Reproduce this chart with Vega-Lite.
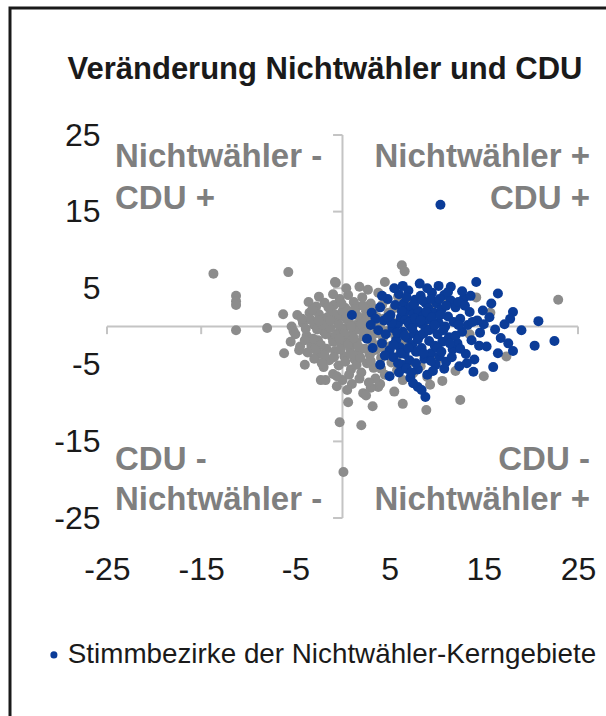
{
  "$schema": "https://vega.github.io/schema/vega-lite/v6.json",
  "autosize": {"type": "none"},
  "padding": {"left": 10, "top": 8, "right": 0, "bottom": 0},
  "width": 600,
  "height": 712,
  "background": "white",
  "config": {
    "view": {"stroke": "#1a1a1a", "strokeWidth": 3},
    "font": "Liberation Sans"
  },
  "title": {
    "text": "Veränderung Nichtwähler und CDU",
    "fontSize": 31,
    "fontWeight": "bold",
    "color": "#1a1a1a",
    "anchor": "middle",
    "frame": "group",
    "baseline": "alphabetic",
    "offset": 0,
    "dx": 15,
    "dy": 102
  },
  "datasets": {
    "pts": [
      {"x": -13.7, "y": 6.9, "g": "Übrige"}, {"x": -5.75, "y": 7.1, "g": "Übrige"}, {"x": -11.3, "y": 4.0, "g": "Übrige"}, {"x": -11.3, "y": 3.3, "g": "Übrige"}, {"x": -11.3, "y": 2.8, "g": "Übrige"}, {"x": -11.3, "y": -0.5, "g": "Übrige"}, {"x": -8.0, "y": -0.2, "g": "Übrige"}, {"x": -6.3, "y": 1.6, "g": "Übrige"}, {"x": -5.4, "y": 0.0, "g": "Übrige"}, {"x": -5.2, "y": -0.6, "g": "Übrige"}, {"x": -4.6, "y": -3.1, "g": "Übrige"}, {"x": -2.3, "y": -7.0, "g": "Übrige"}, {"x": -0.7, "y": 5.7, "g": "Übrige"}, {"x": -0.3, "y": -12.5, "g": "Übrige"}, {"x": 0.6, "y": -9.9, "g": "Übrige"}, {"x": 3.2, "y": -10.4, "g": "Übrige"}, {"x": 2.0, "y": -12.9, "g": "Übrige"}, {"x": 0.1, "y": -19.0, "g": "Übrige"}, {"x": 6.3, "y": 8.0, "g": "Übrige"}, {"x": 6.6, "y": 7.2, "g": "Übrige"}, {"x": 22.9, "y": 3.5, "g": "Übrige"}, {"x": 12.5, "y": -9.6, "g": "Übrige"}, {"x": 8.9, "y": -10.9, "g": "Übrige"}, {"x": 6.4, "y": -10.1, "g": "Übrige"}, {"x": 2.2, "y": -8.7, "g": "Übrige"}, {"x": 9.3, "y": -7.6, "g": "Übrige"}, {"x": 3.8, "y": -7.9, "g": "Übrige"}, {"x": 17.4, "y": -3.9, "g": "Übrige"}, {"x": 15.7, "y": 1.8, "g": "Übrige"}, {"x": -0.8, "y": 5.8, "g": "Übrige"}, {"x": 4.5, "y": 5.8, "g": "Übrige"},
      {"x": -4.2, "y": 0.5, "g": "Übrige"}, {"x": -3.8, "y": -1.2, "g": "Übrige"}, {"x": -3.5, "y": 1.8, "g": "Übrige"}, {"x": -3.3, "y": -2.5, "g": "Übrige"}, {"x": -3.0, "y": 0.2, "g": "Übrige"}, {"x": -2.8, "y": 2.6, "g": "Übrige"}, {"x": -2.6, "y": -1.8, "g": "Übrige"}, {"x": -2.4, "y": -3.6, "g": "Übrige"}, {"x": -2.2, "y": 1.0, "g": "Übrige"}, {"x": -2.0, "y": -0.6, "g": "Übrige"}, {"x": -1.9, "y": 3.1, "g": "Übrige"}, {"x": -1.7, "y": -2.9, "g": "Übrige"}, {"x": -1.5, "y": 0.3, "g": "Übrige"}, {"x": -1.4, "y": -4.4, "g": "Übrige"}, {"x": -1.2, "y": 1.9, "g": "Übrige"}, {"x": -1.1, "y": -1.4, "g": "Übrige"}, {"x": -0.9, "y": 2.8, "g": "Übrige"}, {"x": -0.8, "y": -3.2, "g": "Übrige"}, {"x": -0.6, "y": 0.8, "g": "Übrige"}, {"x": -0.5, "y": -0.9, "g": "Übrige"}, {"x": -0.4, "y": -5.1, "g": "Übrige"}, {"x": -0.3, "y": 3.6, "g": "Übrige"}, {"x": -0.2, "y": -2.2, "g": "Übrige"}, {"x": 0.0, "y": 1.4, "g": "Übrige"}, {"x": 0.1, "y": -0.3, "g": "Übrige"}, {"x": 0.2, "y": -3.9, "g": "Übrige"}, {"x": 0.3, "y": 2.4, "g": "Übrige"}, {"x": 0.5, "y": -1.6, "g": "Übrige"}, {"x": 0.6, "y": 4.1, "g": "Übrige"}, {"x": 0.7, "y": 0.5, "g": "Übrige"}, {"x": 0.8, "y": -2.8, "g": "Übrige"}, {"x": 0.9, "y": -5.6, "g": "Übrige"}, {"x": 1.0, "y": 1.9, "g": "Übrige"}, {"x": 1.1, "y": -0.8, "g": "Übrige"}, {"x": 1.2, "y": 3.2, "g": "Übrige"}, {"x": 1.3, "y": -4.3, "g": "Übrige"}, {"x": 1.4, "y": 0.2, "g": "Übrige"}, {"x": 1.5, "y": -2.1, "g": "Übrige"}, {"x": 1.6, "y": 2.6, "g": "Übrige"}, {"x": 1.7, "y": -3.4, "g": "Übrige"}, {"x": 1.8, "y": -0.4, "g": "Übrige"}, {"x": 1.9, "y": 1.1, "g": "Übrige"}, {"x": 2.0, "y": -6.0, "g": "Übrige"}, {"x": 2.1, "y": 3.8, "g": "Übrige"}, {"x": 2.2, "y": -1.3, "g": "Übrige"}, {"x": 2.3, "y": 0.7, "g": "Übrige"}, {"x": 2.4, "y": -2.9, "g": "Übrige"}, {"x": 2.5, "y": 2.0, "g": "Übrige"}, {"x": 2.6, "y": -4.8, "g": "Übrige"}, {"x": 2.7, "y": -0.1, "g": "Übrige"}, {"x": 2.8, "y": 1.5, "g": "Übrige"}, {"x": 2.9, "y": -3.7, "g": "Übrige"}, {"x": 3.0, "y": 3.0, "g": "Übrige"}, {"x": 3.1, "y": -1.9, "g": "Übrige"}, {"x": 3.2, "y": 0.4, "g": "Übrige"}, {"x": 3.3, "y": -5.4, "g": "Übrige"}, {"x": 3.4, "y": 2.3, "g": "Übrige"}, {"x": 3.5, "y": -0.9, "g": "Übrige"}, {"x": 3.6, "y": -3.0, "g": "Übrige"}, {"x": 3.7, "y": 1.2, "g": "Übrige"}, {"x": 3.8, "y": 4.4, "g": "Übrige"}, {"x": 3.9, "y": -2.4, "g": "Übrige"}, {"x": 4.0, "y": 0.0, "g": "Übrige"}, {"x": 4.1, "y": -4.1, "g": "Übrige"}, {"x": 4.2, "y": 2.8, "g": "Übrige"}, {"x": 4.3, "y": -1.5, "g": "Übrige"}, {"x": 4.4, "y": 1.0, "g": "Übrige"}, {"x": 4.5, "y": -6.3, "g": "Übrige"}, {"x": 4.6, "y": -3.2, "g": "Übrige"}, {"x": 4.7, "y": 3.5, "g": "Übrige"}, {"x": 4.8, "y": -0.6, "g": "Übrige"}, {"x": 4.9, "y": 1.8, "g": "Übrige"}, {"x": 5.0, "y": -2.6, "g": "Übrige"}, {"x": 5.2, "y": -4.7, "g": "Übrige"}, {"x": 5.3, "y": 0.6, "g": "Übrige"}, {"x": 5.5, "y": 2.4, "g": "Übrige"}, {"x": 5.6, "y": -1.2, "g": "Übrige"}, {"x": 5.8, "y": -5.7, "g": "Übrige"}, {"x": 5.9, "y": 3.9, "g": "Übrige"}, {"x": 6.1, "y": -3.6, "g": "Übrige"}, {"x": 6.2, "y": 0.9, "g": "Übrige"}, {"x": 6.4, "y": -7.0, "g": "Übrige"}, {"x": 6.5, "y": -2.0, "g": "Übrige"}, {"x": 6.7, "y": 1.6, "g": "Übrige"}, {"x": 6.9, "y": -4.9, "g": "Übrige"}, {"x": 7.1, "y": 3.1, "g": "Übrige"}, {"x": 7.3, "y": -0.8, "g": "Übrige"}, {"x": 7.5, "y": -6.1, "g": "Übrige"}, {"x": 7.8, "y": 2.2, "g": "Übrige"}, {"x": 8.0, "y": -3.3, "g": "Übrige"}, {"x": 8.3, "y": -5.2, "g": "Übrige"}, {"x": 8.6, "y": 0.3, "g": "Übrige"}, {"x": 9.0, "y": -6.6, "g": "Übrige"}, {"x": 9.5, "y": 2.7, "g": "Übrige"}, {"x": 10.0, "y": -4.4, "g": "Übrige"}, {"x": 10.6, "y": -7.1, "g": "Übrige"}, {"x": 11.2, "y": 3.3, "g": "Übrige"}, {"x": 12.0, "y": -5.8, "g": "Übrige"}, {"x": 12.8, "y": 2.9, "g": "Übrige"}, {"x": 13.5, "y": -1.0, "g": "Übrige"}, {"x": 14.2, "y": 3.8, "g": "Übrige"}, {"x": 15.0, "y": -6.5, "g": "Übrige"}, {"x": -1.0, "y": 4.2, "g": "Übrige"}, {"x": -2.5, "y": 3.9, "g": "Übrige"}, {"x": 0.4, "y": 5.0, "g": "Übrige"}, {"x": -3.0, "y": -4.2, "g": "Übrige"}, {"x": -2.0, "y": -5.3, "g": "Übrige"}, {"x": -1.0, "y": -6.2, "g": "Übrige"}, {"x": 0.0, "y": -7.0, "g": "Übrige"}, {"x": 1.0, "y": -7.5, "g": "Übrige"}, {"x": -4.5, "y": -2.6, "g": "Übrige"}, {"x": -5.0, "y": -1.0, "g": "Übrige"}, {"x": -4.8, "y": 1.5, "g": "Übrige"}, {"x": -3.6, "y": 3.2, "g": "Übrige"}, {"x": 2.7, "y": 4.8, "g": "Übrige"}, {"x": 1.8, "y": 5.2, "g": "Übrige"}, {"x": -0.6, "y": -7.8, "g": "Übrige"}, {"x": 0.5, "y": -8.3, "g": "Übrige"}, {"x": 3.0, "y": -8.0, "g": "Übrige"}, {"x": 4.0, "y": -7.5, "g": "Übrige"}, {"x": 5.5, "y": -8.5, "g": "Übrige"}, {"x": 2.5, "y": -9.0, "g": "Übrige"}, {"x": -1.8, "y": -7.0, "g": "Übrige"},
      {"x": -3.9, "y": -0.3, "g": "Übrige"}, {"x": -3.4, "y": 0.9, "g": "Übrige"}, {"x": -3.1, "y": -1.6, "g": "Übrige"}, {"x": -2.7, "y": -0.4, "g": "Übrige"}, {"x": -2.5, "y": 1.6, "g": "Übrige"}, {"x": -2.3, "y": -2.4, "g": "Übrige"}, {"x": -2.1, "y": 0.2, "g": "Übrige"}, {"x": -1.8, "y": -1.0, "g": "Übrige"}, {"x": -1.6, "y": 1.2, "g": "Übrige"}, {"x": -1.3, "y": -0.2, "g": "Übrige"}, {"x": -1.0, "y": -2.0, "g": "Übrige"}, {"x": -0.8, "y": 1.6, "g": "Übrige"}, {"x": -0.7, "y": -1.2, "g": "Übrige"}, {"x": -0.4, "y": 0.2, "g": "Übrige"}, {"x": -0.2, "y": -3.0, "g": "Übrige"}, {"x": 0.0, "y": 2.0, "g": "Übrige"}, {"x": 0.2, "y": -1.0, "g": "Übrige"}, {"x": 0.4, "y": 1.0, "g": "Übrige"}, {"x": 0.6, "y": -2.3, "g": "Übrige"}, {"x": 0.9, "y": 0.0, "g": "Übrige"}, {"x": 1.2, "y": -1.5, "g": "Übrige"}, {"x": 1.5, "y": 1.5, "g": "Übrige"}, {"x": 1.7, "y": -2.6, "g": "Übrige"}, {"x": 2.0, "y": 0.3, "g": "Übrige"}, {"x": 2.3, "y": -0.8, "g": "Übrige"}, {"x": 2.6, "y": 1.0, "g": "Übrige"}, {"x": 2.9, "y": -1.2, "g": "Übrige"}, {"x": 3.2, "y": -3.2, "g": "Übrige"}, {"x": -2.9, "y": -3.0, "g": "Übrige"}, {"x": -1.9, "y": -3.8, "g": "Übrige"}, {"x": -0.9, "y": -4.0, "g": "Übrige"}, {"x": 0.3, "y": -4.6, "g": "Übrige"}, {"x": 1.5, "y": -5.0, "g": "Übrige"}, {"x": -3.2, "y": 2.2, "g": "Übrige"}, {"x": -1.5, "y": 2.5, "g": "Übrige"}, {"x": -0.1, "y": 3.0, "g": "Übrige"}, {"x": 1.3, "y": 2.3, "g": "Übrige"}, {"x": 2.2, "y": 2.7, "g": "Übrige"}, {"x": -4.0, "y": -1.8, "g": "Übrige"}, {"x": -4.3, "y": 1.0, "g": "Übrige"}, {"x": -2.2, "y": -4.8, "g": "Übrige"}, {"x": -0.6, "y": -6.5, "g": "Übrige"}, {"x": 0.7, "y": -6.3, "g": "Übrige"}, {"x": -3.7, "y": -3.4, "g": "Übrige"}, {"x": -2.5, "y": 0.8, "g": "Übrige"}, {"x": -1.3, "y": 0.8, "g": "Übrige"}, {"x": -0.3, "y": -1.6, "g": "Übrige"}, {"x": 0.8, "y": -3.6, "g": "Übrige"}, {"x": 1.9, "y": -4.1, "g": "Übrige"}, {"x": 3.0, "y": -4.5, "g": "Übrige"}, {"x": 4.1, "y": -5.5, "g": "Übrige"}, {"x": 3.5, "y": -6.8, "g": "Übrige"}, {"x": 2.8, "y": -7.3, "g": "Übrige"}, {"x": 1.8, "y": -6.8, "g": "Übrige"}, {"x": -5.5, "y": -2.0, "g": "Übrige"}, {"x": -6.2, "y": -3.5, "g": "Übrige"}, {"x": -4.0, "y": -5.0, "g": "Übrige"},
      {"x": 14.2, "y": 5.8, "g": "K"}, {"x": 16.5, "y": 4.3, "g": "K"}, {"x": 18.1, "y": 1.9, "g": "K"}, {"x": 20.8, "y": 0.7, "g": "K"}, {"x": 22.5, "y": -1.9, "g": "K"}, {"x": 20.4, "y": -2.5, "g": "K"}, {"x": 18.1, "y": -3.2, "g": "K"}, {"x": 16.0, "y": -5.3, "g": "K"}, {"x": 13.9, "y": -5.9, "g": "K"}, {"x": 8.8, "y": -9.2, "g": "K"}, {"x": 8.0, "y": -7.9, "g": "K"}, {"x": 7.2, "y": -6.7, "g": "K"}, {"x": 5.0, "y": -6.5, "g": "K"}, {"x": 1.0, "y": 1.5, "g": "K"}, {"x": 3.1, "y": 1.8, "g": "K"}, {"x": 10.4, "y": 15.9, "g": "K"},
      {"x": 3.8, "y": -0.5, "g": "K"}, {"x": 4.0, "y": 2.5, "g": "K"}, {"x": 4.2, "y": -2.2, "g": "K"}, {"x": 4.4, "y": 0.8, "g": "K"}, {"x": 4.6, "y": -1.0, "g": "K"}, {"x": 4.8, "y": 3.6, "g": "K"}, {"x": 5.0, "y": -3.1, "g": "K"}, {"x": 5.1, "y": 1.5, "g": "K"}, {"x": 5.3, "y": -0.2, "g": "K"}, {"x": 5.4, "y": -4.0, "g": "K"}, {"x": 5.6, "y": 2.8, "g": "K"}, {"x": 5.7, "y": -1.8, "g": "K"}, {"x": 5.9, "y": 0.4, "g": "K"}, {"x": 6.0, "y": 4.2, "g": "K"}, {"x": 6.1, "y": -2.7, "g": "K"}, {"x": 6.2, "y": 1.2, "g": "K"}, {"x": 6.3, "y": -5.0, "g": "K"}, {"x": 6.4, "y": -0.7, "g": "K"}, {"x": 6.5, "y": 3.0, "g": "K"}, {"x": 6.6, "y": -3.6, "g": "K"}, {"x": 6.7, "y": 0.9, "g": "K"}, {"x": 6.8, "y": 2.1, "g": "K"}, {"x": 6.9, "y": -1.5, "g": "K"}, {"x": 7.0, "y": 4.7, "g": "K"}, {"x": 7.1, "y": -4.4, "g": "K"}, {"x": 7.2, "y": 0.1, "g": "K"}, {"x": 7.3, "y": 2.6, "g": "K"}, {"x": 7.4, "y": -2.4, "g": "K"}, {"x": 7.5, "y": 1.6, "g": "K"}, {"x": 7.6, "y": -0.9, "g": "K"}, {"x": 7.7, "y": 3.5, "g": "K"}, {"x": 7.8, "y": -3.3, "g": "K"}, {"x": 7.9, "y": 0.6, "g": "K"}, {"x": 8.0, "y": -5.6, "g": "K"}, {"x": 8.1, "y": 2.0, "g": "K"}, {"x": 8.2, "y": -1.2, "g": "K"}, {"x": 8.3, "y": 4.0, "g": "K"}, {"x": 8.4, "y": -2.8, "g": "K"}, {"x": 8.5, "y": 0.3, "g": "K"}, {"x": 8.6, "y": 1.4, "g": "K"}, {"x": 8.7, "y": -4.2, "g": "K"}, {"x": 8.8, "y": 3.1, "g": "K"}, {"x": 8.9, "y": -0.4, "g": "K"}, {"x": 9.0, "y": -6.3, "g": "K"}, {"x": 9.1, "y": 2.4, "g": "K"}, {"x": 9.2, "y": -1.9, "g": "K"}, {"x": 9.3, "y": 0.9, "g": "K"}, {"x": 9.4, "y": -3.5, "g": "K"}, {"x": 9.5, "y": 4.4, "g": "K"}, {"x": 9.6, "y": -0.1, "g": "K"}, {"x": 9.7, "y": 1.8, "g": "K"}, {"x": 9.8, "y": -2.5, "g": "K"}, {"x": 9.9, "y": -5.0, "g": "K"}, {"x": 10.0, "y": 3.0, "g": "K"}, {"x": 10.1, "y": -1.0, "g": "K"}, {"x": 10.2, "y": 0.5, "g": "K"}, {"x": 10.3, "y": -3.9, "g": "K"}, {"x": 10.5, "y": 2.2, "g": "K"}, {"x": 10.6, "y": -2.0, "g": "K"}, {"x": 10.8, "y": 4.1, "g": "K"}, {"x": 10.9, "y": 0.0, "g": "K"}, {"x": 11.0, "y": -4.6, "g": "K"}, {"x": 11.2, "y": 1.3, "g": "K"}, {"x": 11.3, "y": -1.4, "g": "K"}, {"x": 11.5, "y": 3.4, "g": "K"}, {"x": 11.7, "y": -3.0, "g": "K"}, {"x": 11.8, "y": 0.6, "g": "K"}, {"x": 12.0, "y": 2.5, "g": "K"}, {"x": 12.2, "y": -2.2, "g": "K"}, {"x": 12.4, "y": -5.2, "g": "K"}, {"x": 12.5, "y": 1.0, "g": "K"}, {"x": 12.7, "y": -0.7, "g": "K"}, {"x": 12.9, "y": 3.7, "g": "K"}, {"x": 13.1, "y": -3.6, "g": "K"}, {"x": 13.3, "y": 0.2, "g": "K"}, {"x": 13.5, "y": 1.9, "g": "K"}, {"x": 13.7, "y": -1.8, "g": "K"}, {"x": 14.0, "y": -4.3, "g": "K"}, {"x": 14.3, "y": 0.8, "g": "K"}, {"x": 14.6, "y": -0.8, "g": "K"}, {"x": 14.9, "y": 2.1, "g": "K"}, {"x": 15.3, "y": -2.6, "g": "K"}, {"x": 15.6, "y": 1.2, "g": "K"}, {"x": 16.2, "y": -0.4, "g": "K"}, {"x": 16.8, "y": -1.5, "g": "K"}, {"x": 17.2, "y": 0.3, "g": "K"}, {"x": 17.6, "y": -2.2, "g": "K"}, {"x": 6.0, "y": -6.0, "g": "K"}, {"x": 7.5, "y": -7.4, "g": "K"}, {"x": 8.4, "y": -8.3, "g": "K"}, {"x": 5.5, "y": 5.0, "g": "K"}, {"x": 9.0, "y": 5.0, "g": "K"}, {"x": 11.5, "y": 5.2, "g": "K"}, {"x": 12.7, "y": 4.6, "g": "K"}, {"x": 3.2, "y": -2.8, "g": "K"}, {"x": 4.0, "y": -5.0, "g": "K"}, {"x": 3.5, "y": 1.0, "g": "K"},
      {"x": 5.2, "y": 0.5, "g": "K"}, {"x": 5.8, "y": -0.8, "g": "K"}, {"x": 6.3, "y": 2.0, "g": "K"}, {"x": 6.6, "y": -1.2, "g": "K"}, {"x": 7.0, "y": 0.5, "g": "K"}, {"x": 7.4, "y": -0.2, "g": "K"}, {"x": 7.7, "y": 1.0, "g": "K"}, {"x": 8.0, "y": -1.7, "g": "K"}, {"x": 8.3, "y": 0.8, "g": "K"}, {"x": 8.6, "y": -0.9, "g": "K"}, {"x": 8.9, "y": 1.9, "g": "K"}, {"x": 9.2, "y": -0.5, "g": "K"}, {"x": 9.5, "y": 1.2, "g": "K"}, {"x": 9.8, "y": 0.2, "g": "K"}, {"x": 10.1, "y": -2.8, "g": "K"}, {"x": 10.4, "y": 1.5, "g": "K"}, {"x": 10.7, "y": -0.5, "g": "K"}, {"x": 11.0, "y": 2.7, "g": "K"}, {"x": 11.4, "y": -2.2, "g": "K"}, {"x": 12.0, "y": -1.2, "g": "K"}, {"x": 12.3, "y": 0.2, "g": "K"}, {"x": 6.2, "y": -3.5, "g": "K"}, {"x": 7.0, "y": -2.8, "g": "K"}, {"x": 7.8, "y": -4.8, "g": "K"}, {"x": 8.6, "y": -3.5, "g": "K"}, {"x": 9.4, "y": -4.5, "g": "K"}, {"x": 10.5, "y": -3.3, "g": "K"}, {"x": 11.6, "y": -4.0, "g": "K"}, {"x": 6.8, "y": 3.8, "g": "K"}, {"x": 7.6, "y": 2.9, "g": "K"}, {"x": 8.5, "y": 3.4, "g": "K"}, {"x": 9.4, "y": 3.6, "g": "K"}, {"x": 10.3, "y": 3.6, "g": "K"}, {"x": 11.2, "y": 4.5, "g": "K"}, {"x": 12.3, "y": 3.2, "g": "K"}, {"x": 13.0, "y": 2.7, "g": "K"}, {"x": 13.8, "y": 0.6, "g": "K"}, {"x": 14.5, "y": -2.5, "g": "K"}, {"x": 15.0, "y": 0.3, "g": "K"}, {"x": 5.4, "y": -2.4, "g": "K"}, {"x": 4.8, "y": 1.2, "g": "K"}, {"x": 4.5, "y": -3.8, "g": "K"}, {"x": 5.9, "y": -4.8, "g": "K"}, {"x": 6.8, "y": -5.5, "g": "K"}, {"x": 7.3, "y": -6.0, "g": "K"}, {"x": 9.6, "y": -5.8, "g": "K"}, {"x": 10.8, "y": -5.5, "g": "K"}, {"x": 13.2, "y": -4.8, "g": "K"}, {"x": 15.8, "y": 3.0, "g": "K"}, {"x": 16.5, "y": -3.5, "g": "K"}, {"x": 17.8, "y": 1.0, "g": "K"}, {"x": 19.0, "y": -0.5, "g": "K"}, {"x": 4.2, "y": 4.0, "g": "K"}, {"x": 6.4, "y": 5.3, "g": "K"}, {"x": 8.2, "y": 5.6, "g": "K"}, {"x": 10.2, "y": 5.3, "g": "K"}, {"x": 3.0, "y": 0.2, "g": "K"}, {"x": 2.6, "y": -1.6, "g": "K"}, {"x": 13.6, "y": 4.0, "g": "K"}, {"x": 12.5, "y": -2.9, "g": "K"}
    ],
    "lines": [
      {"x": -25, "x2": 25, "y": 0, "y2": 0},
      {"x": 0, "x2": 0, "y": -25, "y2": 25},
      {"x": -25, "x2": -25, "y": 0, "y2": -1},
      {"x": -15, "x2": -15, "y": 0, "y2": -1},
      {"x": -5, "x2": -5, "y": 0, "y2": -1},
      {"x": 5, "x2": 5, "y": 0, "y2": -1},
      {"x": 15, "x2": 15, "y": 0, "y2": -1},
      {"x": 25, "x2": 25, "y": 0, "y2": -1},
      {"x": -1, "x2": 0, "y": -25, "y2": -25},
      {"x": -1, "x2": 0, "y": -15, "y2": -15},
      {"x": -1, "x2": 0, "y": -5, "y2": -5},
      {"x": -1, "x2": 0, "y": 5, "y2": 5},
      {"x": -1, "x2": 0, "y": 15, "y2": 15},
      {"x": -1, "x2": 0, "y": 25, "y2": 25}
    ],
    "annot": [
      {"x": -24.15, "y": 22.1, "label": "Nichtwähler -", "side": "left"},
      {"x": -24.15, "y": 16.65, "label": "CDU +", "side": "left"},
      {"x": 26.27, "y": 22.1, "label": "Nichtwähler +", "side": "right"},
      {"x": 26.27, "y": 16.65, "label": "CDU +", "side": "right"},
      {"x": -24.15, "y": -17.4, "label": "CDU -", "side": "left"},
      {"x": -24.15, "y": -22.65, "label": "Nichtwähler -", "side": "left"},
      {"x": 26.27, "y": -17.4, "label": "CDU -", "side": "right"},
      {"x": 26.27, "y": -22.65, "label": "Nichtwähler +", "side": "right"}
    ]
  },
  "layer": [
    {
      "data": {"name": "lines"},
      "mark": {"type": "rule", "color": "#c4c4c4", "strokeWidth": 2},
      "encoding": {
        "x": {"field": "x", "type": "quantitative", "scale": {"domain": [-35.297, 28.4], "nice": false, "zero": false},
          "axis": {"orient": "bottom", "offset": -151, "values": [-25, -15, -5, 5, 15, 25], "labelExpr": "'' + datum.value", "domain": false, "ticks": false, "grid": false, "labelPadding": 0, "labelBaseline": "middle", "labelFontSize": 32, "labelColor": "#1a1a1a", "labelFont": "Liberation Sans", "title": null, "labelFlush": false, "labelOverlap": false}},
        "x2": {"field": "x2"},
        "y": {"field": "y", "type": "quantitative", "scale": {"domain": [-51.37, 41.58], "nice": false, "zero": false},
          "axis": {"orient": "left", "offset": -90, "values": [-25, -15, -5, 5, 15, 25], "labelExpr": "'' + datum.value", "domain": false, "ticks": false, "grid": false, "labelPadding": 0, "labelFontSize": 32, "labelColor": "#1a1a1a", "labelFont": "Liberation Sans", "title": null, "labelFlush": false, "labelOverlap": false}},
        "y2": {"field": "y2"}
      }
    },
    {
      "data": {"name": "pts"},
      "mark": {"type": "circle", "opacity": 1, "size": 100},
      "encoding": {
        "x": {"field": "x", "type": "quantitative"},
        "y": {"field": "y", "type": "quantitative"},
        "color": {"field": "g", "type": "nominal",
          "scale": {"domain": ["K", "Übrige"], "range": ["#0b3c98", "#8c8c8c"]},
          "legend": {"values": ["K"], "labelExpr": "'Stimmbezirke der Nichtwähler-Kerngebiete'", "title": null, "orient": "none", "legendX": 30, "legendY": 633, "padding": 0, "symbolSize": 50, "symbolType": "circle", "labelFontSize": 27.8, "labelFont": "Liberation Sans", "labelColor": "#1a1a1a", "labelOffset": 0, "labelLimit": 700}}
      }
    },
    {
      "data": {"name": "annot"},
      "transform": [{"filter": "datum.side === 'left'"}],
      "mark": {"type": "text", "align": "left", "baseline": "middle", "fontSize": 33, "fontWeight": "bold", "color": "#7f7f7f", "font": "Liberation Sans"},
      "encoding": {
        "x": {"field": "x", "type": "quantitative"},
        "y": {"field": "y", "type": "quantitative"},
        "text": {"field": "label"}
      }
    },
    {
      "data": {"name": "annot"},
      "transform": [{"filter": "datum.side === 'right'"}],
      "mark": {"type": "text", "align": "right", "baseline": "middle", "fontSize": 33, "fontWeight": "bold", "color": "#7f7f7f", "font": "Liberation Sans"},
      "encoding": {
        "x": {"field": "x", "type": "quantitative"},
        "y": {"field": "y", "type": "quantitative"},
        "text": {"field": "label"}
      }
    }
  ]
}
